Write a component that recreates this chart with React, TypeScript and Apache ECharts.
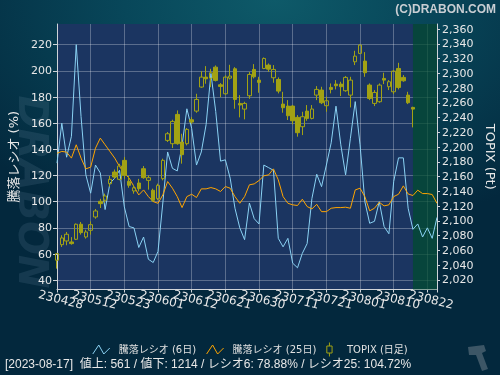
import React, { useEffect, useRef } from 'react';
import * as echarts from 'echarts';

const dates = [
  '230428','230501','230502','230508','230509','230510','230511','230512','230515','230516',
  '230517','230518','230519','230522','230523','230524','230525','230526','230529','230530',
  '230531','230601','230602','230605','230606','230607','230608','230609','230612','230613',
  '230614','230615','230616','230619','230620','230621','230622','230623','230626','230627',
  '230628','230629','230630','230703','230704','230705','230706','230707','230710','230711',
  '230712','230713','230714','230718','230719','230720','230721','230724','230725','230726',
  '230727','230728','230731','230801','230802','230803','230804','230807','230808','230809',
  '230810','230814','230815','230816','230817','230818','230821','230822','230823','230824',
];

const labelDates = ['230428', '230512', '230523', '230601', '230612', '230621', '230630', '230711', '230721', '230801', '230810', '230822'];

const ratio6 = [
  129.5, 160, 134, 150, 220, 165, 120.5, 106.5, 128, 122,
  94, 114, 118, 124, 96, 81, 80, 65, 73, 56,
  53.5, 62, 99, 138, 125.5, 123.5, 143, 171, 156, 128,
  138, 159, 198, 169, 131, 132, 118, 95, 80, 71,
  99, 87, 83, 128, 126, 124, 72, 65.5, 72, 53,
  49.5, 60.5, 68, 102.5, 121, 111.5, 128, 145, 173, 143.5,
  120.5, 148.5, 176.5, 143.5, 100, 83.5, 85, 100, 81, 75.5,
  115.5, 133.5, 133.5, 95, 78.88, 83, 73, 80, 72, 88,
];

const ratio25 = [
  137, 138.4, 137.9, 133.3, 143.5, 133.3, 125.1, 126.4, 140.9, 148.6,
  143.5, 138.4, 133.3, 126.9, 121.8, 118, 111.6, 105.2, 109, 103.9,
  100.1, 98.8, 105.2, 115.4, 110.3, 103.9, 95.5, 103.9, 105.7, 103.2,
  109.8, 109.8, 110.8, 109.8, 107.8, 111.6, 110.3, 103.9, 98.8, 103.9,
  112.9, 113.6, 116.2, 119.8, 120.5, 125.1, 116.7, 103.9, 98.8, 97.6,
  97.1, 101.9, 96.3, 94.5, 98, 92.4, 92.4, 95, 95.5, 95.5,
  95.8, 95, 109, 110.3, 103.9, 93, 95, 99.6, 96.8, 97.6,
  103.9, 105.7, 112.1, 105.9, 104.72, 108.8, 106.2, 106.2, 105.5, 98.7,
];

const topixOpen = [
  2046.7, 2067.8, 2072.8, 2071.5, 2075.1, 2095.5, 2078.2, 2087.3, 2105.3, 2126.6,
  2128, 2150.5, 2166.3, 2156.4, 2182.1, 2153.7, 2140.6, 2151.4, 2170.8, 2155,
  2141.5, 2130.2, 2157.3, 2209.2, 2204.7, 2244.4, 2207, 2204.7, 2237.2, 2248.9,
  2281.5, 2295, 2293.6, 2308.5, 2284.6, 2272.4, 2293.6, 2306.3, 2259.3, 2251.6,
  2269.7, 2305.4, 2290.9, 2306.7, 2311.3, 2294.1, 2291.8, 2258.4, 2255.7, 2255.7,
  2240.4, 2227.7, 2248.9, 2239, 2270.6, 2277.4, 2256.2, 2281, 2285.5, 2285.5,
  2276.5, 2270.6, 2315.8, 2327.1, 2316.7, 2284.2, 2259.3, 2261.6, 2293.2, 2282,
  2275.1, 2306.7, 2294.6, 2270.6, 2253.9,
];
const topixClose = [
  2055.6, 2076.9, 2081.9, 2069.2, 2095.5, 2084.1, 2085, 2094.9, 2113.5, 2123.4,
  2133.8, 2156.4, 2159.5, 2174.4, 2161.8, 2148.3, 2145, 2143.7, 2158.6, 2158.6,
  2127.9, 2148.2, 2182.1, 2218.2, 2234.9, 2204.7, 2189.8, 2224.1, 2234, 2264.7,
  2295, 2292.7, 2300.9, 2290.5, 2282.4, 2295, 2296.4, 2264.7, 2257.1, 2259.3,
  2298.6, 2295.4, 2287.8, 2320.3, 2305.8, 2305.4, 2276, 2253.5, 2242.6, 2235.8,
  2219.6, 2241.3, 2239, 2251.7, 2278.3, 2260.2, 2262.9, 2278.3, 2283.3, 2282,
  2294.6, 2290.9, 2323.4, 2338.4, 2300.9, 2266.1, 2274.2, 2284.2, 2290.9, 2288.7,
  2303.1, 2281, 2290, 2260.2, 2251.6,
];
const topixLow = [
  2035.3, 2064.7, 2067, 2067.8, 2074, 2081.4, 2076, 2081.4, 2103, 2117.5,
  2124.7, 2146.4, 2157.2, 2155.1, 2157.2, 2145, 2136.9, 2140, 2157.2, 2142.4,
  2125.7, 2127.9, 2155, 2207, 2198.8, 2203.3, 2177.6, 2202.4, 2231.8, 2246.7,
  2280.5, 2286, 2281.5, 2289.1, 2267.9, 2271.1, 2291.8, 2252.1, 2240.4, 2237.7,
  2265.6, 2293.2, 2273.8, 2305.8, 2302.2, 2287.3, 2272.9, 2246.7, 2236.8, 2230.9,
  2214.2, 2216.4, 2235.8, 2237.7, 2263.8, 2258.4, 2248, 2272.9, 2278.3, 2269.3,
  2275.1, 2253.9, 2311.3, 2326.2, 2295.4, 2263.8, 2255.7, 2260.2, 2285.5, 2277.4,
  2272, 2278.3, 2288.7, 2258.4, 2226.8,
];
const topixHigh = [
  2056.5, 2080.6, 2085, 2078, 2096.5, 2098.6, 2088, 2099.3, 2116.2, 2130,
  2137, 2160.9, 2169.7, 2177.5, 2186.6, 2160.9, 2149, 2157, 2174.4, 2161.8,
  2143.7, 2150.5, 2184.4, 2220.5, 2237.2, 2249.8, 2218.2, 2225.9, 2240.8, 2272.4,
  2303.1, 2309.9, 2306.3, 2310.8, 2286.9, 2297.3, 2311.7, 2308.5, 2270.6, 2261.6,
  2301.8, 2312.6, 2295.4, 2321.6, 2313.5, 2311.3, 2294.6, 2275.1, 2263.8, 2257.1,
  2243.5, 2248, 2257.1, 2257.1, 2282.8, 2281.9, 2268.4, 2286.4, 2290.9, 2288.7,
  2296.4, 2295.4, 2330.7, 2339.3, 2328.9, 2286.4, 2277.4, 2286.4, 2300.9, 2290.9,
  2304.5, 2314.4, 2297.7, 2275.1, 2254.8,
];

const leftTicks = [40, 60, 80, 100, 120, 140, 160, 180, 200, 220];
const rightTicks = [2020, 2040, 2060, 2080, 2100, 2120, 2140, 2160, 2180, 2200, 2220, 2240, 2260, 2280, 2300, 2320, 2340, 2360];

const seriesNames = ['騰落レシオ (6日)', '騰落レシオ (25日)', 'TOPIX (日足)'];
const footerText = '[2023-08-17]  値上: 561 / 値下: 1214 / レシオ6: 78.88% / レシオ25: 104.72%';
const futureRange = ['230817', '230824'];

const FONT = '"DejaVu Sans", "Noto Sans CJK JP", sans-serif';
const BLUE = '#8ad2f4';
const ORANGE = '#ffa500';
const OLIVE = '#a2a214';
const GRIDLINE = 'rgba(255,255,255,0.28)';
const AXIS = '#cfd3d8';
const LABEL = '#e8e8e8';

export default function App() {
  const ref = useRef<HTMLDivElement>(null);

  useEffect(() => {
    if (!ref.current) return;
    const chart = echarts.init(ref.current, null, { renderer: 'svg' });
    const candles = topixOpen.map((o, i) => [o, topixClose[i], topixLow[i], topixHigh[i]]);

    const option: any = {
      animation: false,
      backgroundColor: 'transparent',
      textStyle: { fontFamily: FONT },
      grid: {
        left: 57,
        top: 24,
        width: 380,
        height: 265.5,
        show: true,
        backgroundColor: '#1b3561',
        borderWidth: 0,
        containLabel: false,
        outerBoundsMode: 'none',
      },
      legend: {
        top: 337,
        left: 'center',
        itemWidth: 17,
        itemHeight: 14,
        itemGap: 10,
        textStyle: { color: '#e0e0e0', fontSize: 10, fontFamily: FONT, padding: [0, 0, 0, 4] },
        data: [
          { name: seriesNames[0], icon: 'path://M0,9L6,0L11,9L17,3', itemStyle: { color: 'transparent', borderColor: BLUE, borderWidth: 1 } },
          { name: seriesNames[1], icon: 'path://M0,9L6,0L11,9L17,3', itemStyle: { color: 'transparent', borderColor: ORANGE, borderWidth: 1 } },
          { name: seriesNames[2], icon: 'path://M4,0L4,4M1,4L7,4L7,12L1,12ZM4,12L4,16', itemStyle: { color: 'transparent', borderColor: OLIVE, borderWidth: 1 } },
        ],
      },
      xAxis: {
        type: 'category',
        data: dates,
        boundaryGap: false,
        axisLine: { show: true, lineStyle: { color: AXIS, width: 1 } },
        axisTick: { show: true, interval: 6, length: 3, lineStyle: { color: AXIS } },
        axisLabel: {
          interval: 0,
          formatter: (v: string) => (labelDates.indexOf(v) >= 0 ? v : ''),
          rotate: -14,
          align: 'center',
          verticalAlign: 'middle',
          margin: 9,
          padding: [0, 0, 0, 8],
          color: LABEL,
          fontSize: 12,
          fontFamily: 'DejaVu Sans',
          hideOverlap: false,
        },
        splitLine: { show: true, interval: 6, lineStyle: { color: GRIDLINE, width: 1 } },
      },
      yAxis: [
        {
          type: 'value',
          position: 'left',
          min: 32.9,
          max: 235.8,
          name: '騰落レシオ (%)',
          nameLocation: 'middle',
          nameRotate: 90,
          nameGap: 33,
          nameTextStyle: { color: LABEL, fontSize: 13, fontFamily: FONT },
          axisLine: { show: true, lineStyle: { color: AXIS } },
          axisTick: { show: true, length: 4, customValues: leftTicks, lineStyle: { color: AXIS } },
          axisLabel: { customValues: leftTicks, color: LABEL, fontSize: 11, margin: 5, fontFamily: 'DejaVu Sans' },
          splitLine: { show: true, lineStyle: { color: GRIDLINE, width: 1 } },
        },
        {
          type: 'value',
          position: 'right',
          min: 2007,
          max: 2367,
          name: 'TOPIX (Pt)',
          nameLocation: 'middle',
          nameRotate: -90,
          nameGap: 44,
          nameTextStyle: { color: LABEL, fontSize: 13, fontFamily: 'DejaVu Sans' },
          axisLine: { show: true, lineStyle: { color: AXIS } },
          axisTick: { show: true, length: 3, customValues: rightTicks, lineStyle: { color: AXIS } },
          axisLabel: {
            customValues: rightTicks,
            color: LABEL,
            fontSize: 11,
            margin: 5,
            fontFamily: 'DejaVu Sans',
            formatter: (v: number) => v.toLocaleString('en-US'),
          },
          splitLine: { show: false },
        },
      ],
      series: [
        {
          name: seriesNames[0],
          type: 'line',
          yAxisIndex: 0,
          data: ratio6,
          symbol: 'none',
          lineStyle: { color: BLUE, width: 1 },
          itemStyle: { color: BLUE },
          z: 3,
          markArea: {
            silent: true,
            itemStyle: { color: 'rgba(0,76,46,0.72)' },
            data: [[{ xAxis: futureRange[0] }, { xAxis: futureRange[1] }]],
          },
        },
        {
          name: seriesNames[1],
          type: 'line',
          yAxisIndex: 0,
          data: ratio25,
          symbol: 'none',
          lineStyle: { color: ORANGE, width: 1 },
          itemStyle: { color: ORANGE },
          z: 4,
        },
        {
          name: seriesNames[2],
          type: 'candlestick',
          yAxisIndex: 1,
          data: candles,
          barWidth: 4,
          z: 5,
          itemStyle: {
            color: 'rgba(0,0,0,0)',
            color0: OLIVE,
            borderColor: OLIVE,
            borderColor0: OLIVE,
            borderWidth: 1,
          },
        },
      ],
      graphic: {
        elements: [
          {
            type: 'text',
            z: -1,
            x: 33,
            y: 192,
            rotation: -Math.PI / 2,
            style: {
              text: 'DRABON',
              font: 'italic bold 40px "DejaVu Sans"',
              fill: 'rgba(150,180,200,0.13)',
              align: 'center',
              verticalAlign: 'middle',
            },
          },
          {
            type: 'text',
            right: 4,
            top: 3,
            style: {
              text: '(C)DRABON.COM',
              font: 'bold 12px "Liberation Sans"',
              fill: '#c9ced3',
            },
          },
          {
            type: 'text',
            left: 5,
            top: 358,
            style: {
              text: footerText,
              font: '12px "Liberation Sans", "Noto Sans CJK JP"',
              fill: '#e8e8e8',
            },
          },
          {
            type: 'polygon',
            shape: {
              points: [[468, 347], [484, 345], [486, 351], [482, 353], [488, 369], [482, 371], [476, 355], [469, 355]],
            },
            style: { fill: '#3c5666' },
          },
        ],
      },
    };

    chart.setOption(option);
    return () => chart.dispose();
  }, []);

  return (
    <div
      ref={ref}
      style={{
        position: 'fixed',
        left: 0,
        top: 0,
        width: 500,
        height: 375,
        background:
          'radial-gradient(ellipse 75% 65% at 55% 0%, #0e5a69 0%, #08475a 40%, #03283d 100%)',
      }}
    />
  );
}
